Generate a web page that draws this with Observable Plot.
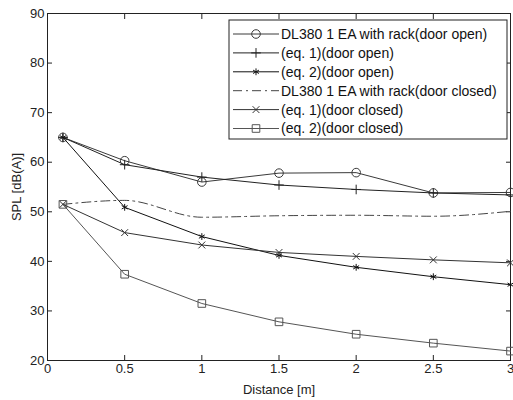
<!DOCTYPE html>
<html><head><meta charset="utf-8">
<script src="https://cdn.jsdelivr.net/npm/d3@7"></script>
<script src="https://cdn.jsdelivr.net/npm/@observablehq/plot@0.6"></script>
<style>body{margin:0;background:#fff;font-family:"Liberation Sans",Arial,sans-serif}</style>
</head><body><div id="chart"></div>
<script>
const distance = [0.1, 0.5, 1, 1.5, 2, 2.5, 3];
const measOpen  = [65, 60.3, 56, 57.8, 57.9, 53.8, 53.9];
const eq1Open   = [65, 59.5, 57, 55.4, 54.5, 53.8, 53.4];
const eq2Open   = [65, 50.9, 45, 41.2, 38.8, 36.9, 35.3];
const measClosed= [51.5, 52.3, 48.9, 49.2, 49.3, 49.1, 50.1];
const eq1Closed = [51.5, 45.8, 43.3, 41.8, 41.0, 40.3, 39.7];
const eq2Closed = [51.5, 37.4, 31.5, 27.8, 25.3, 23.5, 21.9];
const seriesNames = ["DL380 1 EA with rack(door open)","(eq. 1)(door open)","(eq. 2)(door open)","DL380 1 EA with rack(door closed)","(eq. 1)(door closed)","(eq. 2)(door closed)"];
const seriesValues = [measOpen, eq1Open, eq2Open, measClosed, eq1Closed, eq2Closed];
const symbols = ["circle","plus","asterisk",null,"times","square"];
const colors = ["#3a3a3a","#222","#111","#444","#333","#555"];
const dashes = [null,null,null,"9,4,2,4",null,null];
const xTicks = [0,0.5,1,1.5,2,2.5,3];
const yTicks = [20,30,40,50,60,70,80,90];

const rows = [];
seriesNames.forEach((s,i)=>distance.forEach((d,j)=>rows.push({s,i,d,v:seriesValues[i][j]})));
const radius = s => s==="circle"||s==="square" ? 4.3 : 3.2;

const marks = [
  Plot.frame({stroke:"#222"}),
  Plot.axisX({ticks:xTicks, tickSize:-5, tickFormat:d=>String(d), fontSize:12.5, tickPadding:8, label:"Distance [m]", labelAnchor:"center", labelOffset:33, labelArrow:false, fontSize:13}),
  Plot.axisX({ticks:xTicks, anchor:"top", tickSize:-5, tickFormat:()=>"", label:null}),
  Plot.axisY({ticks:yTicks, tickSize:-5, fontSize:13, tickPadding:8, label:"SPL [dB(A)]", labelAnchor:"center", labelOffset:36, labelArrow:false}),
  Plot.axisY({ticks:yTicks, anchor:"right", tickSize:-5, tickFormat:()=>"", label:null}),
];
seriesNames.forEach((s,i)=>{
  const data = rows.filter(r=>r.i===i);
  marks.push(Plot.line(data,{x:"d",y:"v",stroke:colors[i],strokeWidth:1,strokeDasharray:dashes[i]||undefined, curve: i===3?"monotone-x":"linear"}));
  if (symbols[i]) marks.push(Plot.dot(data,{x:"d",y:"v",symbol:()=>symbols[i],stroke:colors[i],strokeWidth:1,r:radius(symbols[i]),fill:"none"}));
});

const chart = Plot.plot({
  width:513, height:400,
  marginLeft:47, marginRight:3, marginTop:13, marginBottom:40,
  style:{fontFamily:"'Liberation Sans', Arial, sans-serif", fontSize:"13px", color:"#222", background:"#fff", overflow:"visible"},
  x:{domain:[0,3]},
  y:{domain:[20,90]},
  symbol:{type:"identity"},
  marks
});
document.getElementById("chart").appendChild(chart);

// Legend inside the plot area (top right), MATLAB style
const svg = d3.select(chart);
const lx = 229, ly = 20, lw = 278, lh = 119;
const g = svg.append("g").attr("text-anchor","start");
g.append("rect").attr("x",lx).attr("y",ly).attr("width",lw).attr("height",lh).attr("fill","#fff").attr("stroke","#222");
seriesNames.forEach((s,i)=>{
  const y = ly + 14 + i*18.9;
  g.append("line").attr("x1",lx+4).attr("x2",lx+50).attr("y1",y).attr("y2",y)
    .attr("stroke",colors[i]).attr("stroke-dasharray",dashes[i]).attr("stroke-width",1);
  if (symbols[i]) {
    const sym = {circle:d3.symbolCircle,plus:d3.symbolPlus,asterisk:d3.symbolAsterisk,times:d3.symbolTimes,square:d3.symbolSquare}[symbols[i]];
    const r = radius(symbols[i]);
    g.append("path").attr("d",d3.symbol(sym, Math.PI*r*r)()).attr("transform",`translate(${lx+27},${y})`)
      .attr("fill","none").attr("stroke",colors[i]);
  }
  g.append("text").attr("x",lx+52).attr("y",y).attr("dy","0.35em").attr("font-size",14).attr("fill","#111").text(s);
});
</script></body></html>
